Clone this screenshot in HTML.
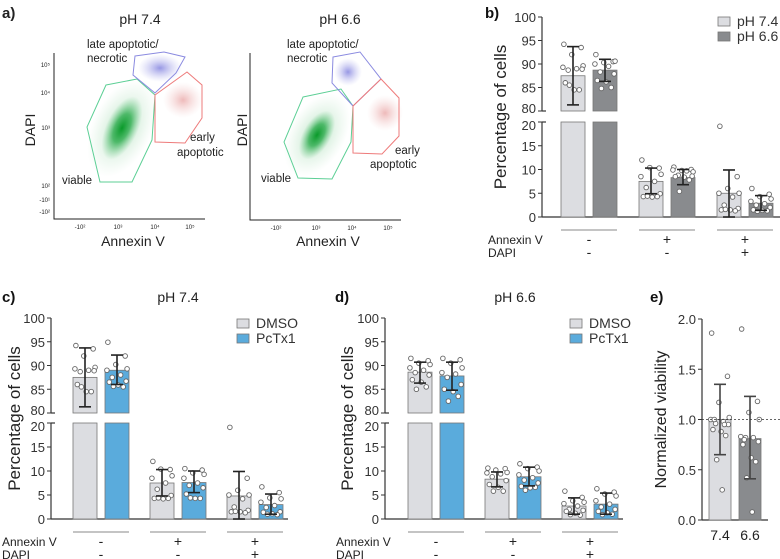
<!DOCTYPE html>
<html><head><meta charset="utf-8">
<style>
html,body{margin:0;padding:0;background:#fff;}
svg{display:block;font-family:"Liberation Sans",sans-serif;}
</style></head>
<body>
<svg id="fig" width="780" height="559" viewBox="0 0 780 559" xmlns="http://www.w3.org/2000/svg">
<defs>
<radialGradient id="gGreen"><stop offset="0" stop-color="#0a9a2a" stop-opacity="1"/><stop offset="0.45" stop-color="#23a845" stop-opacity="0.75"/><stop offset="1" stop-color="#6cc987" stop-opacity="0"/></radialGradient>
<radialGradient id="gGreenWide"><stop offset="0" stop-color="#5cbf76" stop-opacity="0.45"/><stop offset="1" stop-color="#9ad6a8" stop-opacity="0"/></radialGradient>
<radialGradient id="gBlue"><stop offset="0" stop-color="#6a6ad8" stop-opacity="0.7"/><stop offset="1" stop-color="#b0b0ee" stop-opacity="0"/></radialGradient>
<radialGradient id="gRed"><stop offset="0" stop-color="#e08080" stop-opacity="0.55"/><stop offset="1" stop-color="#f0c0c0" stop-opacity="0"/></radialGradient>
</defs>

<!-- Panel a -->
<g font-size="13" fill="#222">
  <text x="2" y="18" font-weight="bold" font-size="15">a)</text>
  <text x="140" y="24" text-anchor="middle" font-size="14">pH 7.4</text>
  <text x="340" y="24" text-anchor="middle" font-size="14">pH 6.6</text>
  <g>
    <ellipse cx="160" cy="68" rx="22" ry="14" fill="url(#gBlue)"/>
    <ellipse cx="183" cy="100" rx="20" ry="18" fill="url(#gRed)"/>
    <ellipse cx="122" cy="128" rx="30" ry="52" transform="rotate(25 122 128)" fill="url(#gGreenWide)"/>
    <ellipse cx="122" cy="128" rx="16" ry="34" transform="rotate(25 122 128)" fill="url(#gGreen)"/>
    <polygon points="106,85 137,79 155,95 152,140 132,182 100,182 87,127" fill="none" stroke="#5ccf95" stroke-width="1"/>
    <polygon points="135,56 164,52 185,57 176,73 155,93 133,75" fill="none" stroke="#8a8ae0" stroke-width="1"/>
    <polygon points="155,95 187,72 202,85 202,118 185,143 155,142" fill="none" stroke="#ee7b7b" stroke-width="1"/>
    <path d="M54,53 V219 H205" fill="none" stroke="#222" stroke-width="1"/>
    <text x="87" y="48" font-size="11.5">late apoptotic/</text>
    <text x="87" y="62" font-size="11.5">necrotic</text>
    <text x="190" y="141" font-size="11.5">early</text>
    <text x="177" y="156" font-size="11.5">apoptotic</text>
    <text x="62" y="184" font-size="11.5">viable</text>
    <text transform="translate(35 130) rotate(-90)" text-anchor="middle" font-size="14">DAPI</text>
    <text x="133" y="246" text-anchor="middle" font-size="14">Annexin V</text>
    <g font-size="6" text-anchor="end">
      <text x="50" y="67">10⁵</text><text x="50" y="95">10⁴</text><text x="50" y="130">10³</text><text x="50" y="188">10²</text><text x="50" y="202">-10¹</text><text x="50" y="214">-10²</text>
    </g>
    <g font-size="6" text-anchor="middle">
      <text x="80" y="229">-10²</text><text x="118" y="229">10³</text><text x="155" y="229">10⁴</text><text x="190" y="229">10⁵</text>
    </g>
  </g>
  <g>
    <ellipse cx="348" cy="72" rx="14" ry="14" fill="url(#gBlue)"/>
    <ellipse cx="385" cy="113" rx="18" ry="18" fill="url(#gRed)"/>
    <ellipse cx="317" cy="135" rx="28" ry="45" transform="rotate(30 317 135)" fill="url(#gGreenWide)"/>
    <ellipse cx="317" cy="135" rx="14" ry="27" transform="rotate(30 317 135)" fill="url(#gGreen)"/>
    <polygon points="303,97 341,89 353,106 351,142 332,179 298,178 284,142" fill="none" stroke="#5ccf95" stroke-width="1"/>
    <polygon points="333,57 360,52 381,79 353,106 332,83" fill="none" stroke="#8a8ae0" stroke-width="1"/>
    <polygon points="353,106 381,79 399,98 399,136 382,154 353,153" fill="none" stroke="#ee7b7b" stroke-width="1"/>
    <path d="M250,53 V220 H401" fill="none" stroke="#222" stroke-width="1"/>
    <text x="287" y="48" font-size="11.5">late apoptotic/</text>
    <text x="287" y="62" font-size="11.5">necrotic</text>
    <text x="395" y="154" font-size="11.5">early</text>
    <text x="370" y="168" font-size="11.5">apoptotic</text>
    <text x="261" y="182" font-size="11.5">viable</text>
    <text transform="translate(247 130) rotate(-90)" text-anchor="middle" font-size="14">DAPI</text>
    <text x="328" y="246" text-anchor="middle" font-size="14">Annexin V</text>
    <g font-size="6" text-anchor="middle">
      <text x="276" y="230">-10²</text><text x="316" y="230">10³</text><text x="352" y="230">10⁴</text><text x="388" y="230">10⁵</text>
    </g>
  </g>
</g>

<g id="charts"></g>
</svg>

<script>
// ===== Panel b data =====
const bCategories = ["Annexin-/DAPI-", "Annexin+/DAPI-", "Annexin+/DAPI+"];
const bSeries1 = [87.5, 7.5, 5.0];      // pH 7.4
const bSeries2 = [88.7, 8.3, 2.9];      // pH 6.6
const bErr1Lo = [81.3, 4.9, 0.0];
const bErr1Hi = [93.7, 10.3, 9.9];
const bErr2Lo = [86.3, 6.8, 1.4];
const bErr2Hi = [91.0, 10.0, 4.5];
const bDots1 = [[94.2,93.5,92,89.6,89.3,89,88.7,88.9,86,84.5,84.5,85.5],[12,10.3,10.4,9,8.5,7.5,6.2,4.9,4.3,4.2,4.3,4.4],[19.1,8.5,6,5,5,4.2,2.5,1.8,1.5,1.5,1.3,1.6]];
const bDots2 = [[92,90.5,90.3,90.6,90,89.5,88.3,87.9,86.5,86.2,85,84.8],[10.5,10,9.8,9.5,9.9,9.7,8.8,8.6,8.5,8.4,7.8,5.4],[6,4.8,4.3,3.8,3.3,2.8,2.5,2.0,1.5,1.4,1.3,1.2]];
// ===== Panel c data (pH 7.4) =====
const cSeries1 = [87.5, 7.5, 4.8];      // DMSO
const cSeries2 = [89.0, 7.6, 3.0];      // PcTx1
const cErr1Lo = [81.3, 4.8, 0.0];
const cErr1Hi = [93.7, 10.3, 9.9];
const cErr2Lo = [86.0, 5.5, 1.0];
const cErr2Hi = [92.2, 10.0, 5.2];
const cDots1 = [[94.2,93.5,92,89.6,89.3,89,88.7,88.9,86,84.5,84.5,85.5],[12,10.3,10.4,9,8.5,7.5,6.2,4.9,4.3,4.2,4.3,4.4],[19.1,8.5,6,5,5,4.2,2.5,1.8,1.5,1.5,1.3,1.6]];
const cDots2 = [[94.9,92,90.2,89.3,89,88,87.5,86.7,86.5,85.9,85.5,85.6],[10.5,10.2,9.6,9.3,8.5,7.5,7.0,6.5,5.2,4.3,4.3,4.4],[6.7,5.5,4.4,4.2,3.5,2.8,2.4,1.5,1.4,1.1,0.9,1.0]];
// ===== Panel d data (pH 6.6) =====
const dSeries1 = [88.6, 8.3, 2.7];      // DMSO
const dSeries2 = [87.8, 8.8, 3.1];      // PcTx1
const dErr1Lo = [86.3, 6.7, 1.0];
const dErr1Hi = [90.7, 9.8, 4.4];
const dErr2Lo = [84.8, 6.9, 1.0];
const dErr2Hi = [90.7, 10.8, 5.4];
const dDots1 = [[91.5,91,90.5,90.2,89.5,89,88.5,88,87,86.5,85.5,85],[10.6,10.5,10.2,9.7,9.6,9.4,8.8,8.0,7.2,6.6,5.8,5.8],[5.8,4.5,3.8,3.5,3.2,2.7,2.0,1.8,1.6,1.2,0.8,0.9]];
const dDots2 = [[91.5,91.2,90.5,89.5,88.5,88.2,87.5,86,85,84.5,83.5,82.5],[11.5,10.8,10.5,10,9.2,8.6,8.1,7.5,6.8,6.5,6.6,6.0],[6.3,5.6,5.2,4.8,3.8,3.1,2.5,2.0,1.6,1.3,1.0,0.9]];
// ===== Panel e data =====
const eCategories = ["7.4", "6.6"];
const eValues = [1.0, 0.81];
const eErrLo = [0.65, 0.41];
const eErrHi = [1.35, 1.23];
const eDots = [[1.86,1.43,1.17,1.02,1.0,0.98,0.96,0.95,0.9,0.88,0.84,0.6,0.3,1.0,0.95],[1.9,1.18,1.07,1.0,0.83,0.82,0.82,0.78,0.75,0.62,0.58,0.42,0.08,0.8]];
const upperTicks = [80, 85, 90, 95, 100];
const lowerTicks = [0, 5, 10, 15, 20];
const eTicks = [0.0, 0.5, 1.0, 1.5, 2.0];

const NS = "http://www.w3.org/2000/svg";
const root = document.getElementById('charts');
const jit = [-0.38,0.34,-0.05,0.42,-0.42,0.15,-0.2,0.38,-0.32,0.05,0.26,-0.15,0.1,-0.26,0.2];

function mk(tag, attrs, parent) {
  const el = document.createElementNS(NS, tag);
  for (const k in attrs) el.setAttribute(k, attrs[k]);
  (parent || root).appendChild(el);
  return el;
}

function brokenChart(o) {
  const g = mk('g', {});
  
  
  const yU = v => o.u80 + (o.u100 - o.u80) * (v - 80) / 20;
  const yL = v => o.l0 + (o.l20 - o.l0) * v / 20;
  const yv = v => v >= 80 ? yU(v) : yL(v);
  mk('line', {x1:o.ax, y1:o.u100, x2:o.ax, y2:o.u80, stroke:'#333','stroke-width':1.2}, g);
  mk('line', {x1:o.ax, y1:o.l20, x2:o.ax, y2:o.l0, stroke:'#333','stroke-width':1.2}, g);
  mk('line', {x1:o.ax, y1:o.u80, x2:o.ax+4, y2:o.u80, stroke:'#333','stroke-width':1.2}, g);
  mk('line', {x1:o.ax, y1:o.l20, x2:o.ax+4, y2:o.l20, stroke:'#333','stroke-width':1.2}, g);
  mk('line', {x1:o.ax, y1:o.l0, x2:o.axEnd, y2:o.l0, stroke:'#333','stroke-width':1.2}, g);
  upperTicks.forEach(t => {
    mk('line', {x1:o.ax-4, y1:yU(t), x2:o.ax, y2:yU(t), stroke:'#333'}, g);
    const tx = mk('text', {x:o.ax-6, y:yU(t)+ (t===80?2:5), 'text-anchor':'end','font-size':13, fill:'#333'}, g);
    tx.textContent = t;
  });
  lowerTicks.forEach(t => {
    mk('line', {x1:o.ax-4, y1:yL(t), x2:o.ax, y2:yL(t), stroke:'#333'}, g);
    const tx = mk('text', {x:o.ax-6, y:yL(t)+(t===20?8:5), 'text-anchor':'end','font-size':13, fill:'#333'}, g);
    tx.textContent = t;
  });
  const yt = mk('text', {transform:`translate(${o.titleX} ${(o.u100+o.l0)/2}) rotate(-90)`, 'text-anchor':'middle','font-size':17, fill:'#222'}, g);
  yt.textContent = 'Percentage of cells';
  
  
  const series = [[o.s1,o.lo1,o.hi1,o.d1,o.c1],[o.s2,o.lo2,o.hi2,o.d2,o.c2]];
  for (let gi = 0; gi < 3; gi++) {
    series.forEach((s, si) => {
      const x0 = o.g0 + gi*o.step + si*(o.bw+o.gap);
      const v = s[0][gi];
      const cx = x0 + o.bw/2;
      let r;
      if (v >= 80) {
        const r1 = mk('rect', {x:x0, y:yU(v), width:o.bw, height:o.u80-yU(v), fill:s[4], stroke:'#777','stroke-width':0.8}, g);
        r = mk('rect', {x:x0, y:o.l20, width:o.bw, height:o.l0-o.l20, fill:s[4], stroke:'#777','stroke-width':0.8}, g);
        
        
      } else {
        r = mk('rect', {x:x0, y:yL(v), width:o.bw, height:o.l0-yL(v), fill:s[4], stroke:'#777','stroke-width':0.8}, g);
      }
      
      
      s[3][gi].forEach((dv, k) => {
        const c = mk('circle', {cx: cx + jit[k % jit.length]*o.bw, cy: yv(dv), r:2.3, fill:'#fff', stroke:'#666','stroke-width':0.9}, g);
        
        
      });
      const lo = yv(s[1][gi]), hi = yv(s[2][gi]);
      const eb = mk('g', {stroke:'#222','stroke-width':1.6}, g);
      
      
      mk('line', {x1:cx, y1:lo, x2:cx, y2:hi}, eb);
      mk('line', {x1:cx-6, y1:lo, x2:cx+6, y2:lo}, eb);
      mk('line', {x1:cx-6, y1:hi, x2:cx+6, y2:hi}, eb);
    });
    const gx0 = o.g0 + gi*o.step;
    const gw = 2*o.bw + o.gap;
    mk('line', {x1:gx0, y1:o.l0+13, x2:gx0+gw, y2:o.l0+13, stroke:'#888','stroke-width':1}, g);
    const cxg = gx0 + gw/2;
    const s1 = mk('text', {x:cxg, y:o.l0+27, 'text-anchor':'middle','font-size':14, fill:'#222'}, g);
    s1.textContent = o.annex[gi];
    const s2 = mk('text', {x:cxg, y:o.l0+40, 'text-anchor':'middle','font-size':14, fill:'#222'}, g);
    s2.textContent = o.dapi[gi];
  }
  const a = mk('text', {x:o.rowX, y:o.l0+27,'font-size':12, fill:'#222'}, g);
  a.textContent = 'Annexin V';
  const d = mk('text', {x:o.rowX, y:o.l0+40,'font-size':12, fill:'#222'}, g);
  d.textContent = 'DAPI';
  o.leg.forEach((lab, i) => {
    const ly = o.legY + i*15;
    const lr = mk('rect', {x:o.legX, y:ly, width:12, height:9, fill:i?o.c2:o.c1, stroke:'#777','stroke-width':0.8}, g);
    
    
    const lt = mk('text', {x:o.legX+19, y:ly+9, 'font-size':14, fill:'#333'}, g);
    lt.textContent = lab;
    
    
  });
}

const signsA = ['-','+','+'], signsD = ['-','-','+'];
brokenChart({name:'panel-b-chart', ax:542, axEnd:780, u100:17, u80:111, l20:122, l0:217, titleX:506,
  g0:561, step:78, bw:24, gap:8, s1:bSeries1, s2:bSeries2, lo1:bErr1Lo, hi1:bErr1Hi, lo2:bErr2Lo, hi2:bErr2Hi,
  d1:bDots1, d2:bDots2, c1:'#dcdde1', c2:'#898b8e', annex:signsA, dapi:signsD, rowX:488,
  leg:['pH 7.4','pH 6.6'], legX:718, legY:17});
brokenChart({name:'panel-c-chart', ax:51, axEnd:288, u100:318, u80:413, l20:423, l0:519, titleX:20,
  g0:73, step:77, bw:24, gap:8, s1:cSeries1, s2:cSeries2, lo1:cErr1Lo, hi1:cErr1Hi, lo2:cErr2Lo, hi2:cErr2Hi,
  d1:cDots1, d2:cDots2, c1:'#dcdde1', c2:'#5aabdc', annex:signsA, dapi:signsD, rowX:2,
  leg:['DMSO','PcTx1'], legX:237, legY:319});
brokenChart({name:'panel-d-chart', ax:385, axEnd:623, u100:318, u80:413, l20:423, l0:519, titleX:353,
  g0:408, step:77, bw:24, gap:8, s1:dSeries1, s2:dSeries2, lo1:dErr1Lo, hi1:dErr1Hi, lo2:dErr2Lo, hi2:dErr2Hi,
  d1:dDots1, d2:dDots2, c1:'#dcdde1', c2:'#5aabdc', annex:signsA, dapi:signsD, rowX:336,
  leg:['DMSO','PcTx1'], legX:570, legY:319});

[['b)',485,18],['c)',2,302],['d)',335,302],['e)',650,302]].forEach(p => {
  const t = mk('text', {x:p[1], y:p[2], 'font-weight':'bold','font-size':15, fill:'#111'});
  t.textContent = p[0];
  
  
});
[['pH 7.4',178,302],['pH 6.6',515,302]].forEach(p => {
  const t = mk('text', {x:p[1], y:p[2], 'text-anchor':'middle','font-size':14, fill:'#222'});
  t.textContent = p[0];
  
  
});

(function(){
  const g = mk('g', {});
  
  
  const ax = 702, y0 = 520, y2 = 319;
  const y = v => y0 + (y2 - y0) * v / 2;
  mk('line', {x1:ax, y1:y2, x2:ax, y2:y0, stroke:'#333','stroke-width':1.2}, g);
  mk('line', {x1:ax, y1:y0, x2:768, y2:y0, stroke:'#333','stroke-width':1.2}, g);
  eTicks.forEach(t => {
    mk('line', {x1:ax-4, y1:y(t), x2:ax, y2:y(t), stroke:'#333'}, g);
    const tx = mk('text', {x:ax-6, y:y(t)+5, 'text-anchor':'end','font-size':13, fill:'#333'}, g);
    tx.textContent = t.toFixed(1);
  });
  const yt = mk('text', {transform:`translate(666 ${(y0+y2)/2}) rotate(-90)`, 'text-anchor':'middle','font-size':16, fill:'#222'}, g);
  yt.textContent = 'Normalized viability';
  
  
  const cols = ['#dcdde1', '#898b8e'];
  eCategories.forEach((cat, i) => {
    const x0 = 709 + i*30, bw = 22, cx = x0 + bw/2;
    const r = mk('rect', {x:x0, y:y(eValues[i]), width:bw, height:y0-y(eValues[i]), fill:cols[i], stroke:'#777','stroke-width':0.8}, g);
    
    
    eDots[i].forEach((dv, k) => {
      const c = mk('circle', {cx:cx + jit[k % jit.length]*bw, cy:y(dv), r:2.3, fill:'#fff', stroke:'#666','stroke-width':0.9}, g);
      
      
    });
    const eb = mk('g', {stroke:'#444','stroke-width':1.6}, g);
    
    
    mk('line', {x1:cx, y1:y(eErrLo[i]), x2:cx, y2:y(eErrHi[i])}, eb);
    mk('line', {x1:cx-6, y1:y(eErrLo[i]), x2:cx+6, y2:y(eErrLo[i])}, eb);
    mk('line', {x1:cx-6, y1:y(eErrHi[i]), x2:cx+6, y2:y(eErrHi[i])}, eb);
    const lt = mk('text', {x:cx, y:540, 'text-anchor':'middle','font-size':14, fill:'#222'}, g);
    lt.textContent = cat;
    
    
  });
  const dl = mk('line', {x1:ax, y1:y(1), x2:780, y2:y(1), stroke:'#333','stroke-width':0.8,'stroke-dasharray':'2,2'}, g);
  
  
})();
</script>
</body></html>
